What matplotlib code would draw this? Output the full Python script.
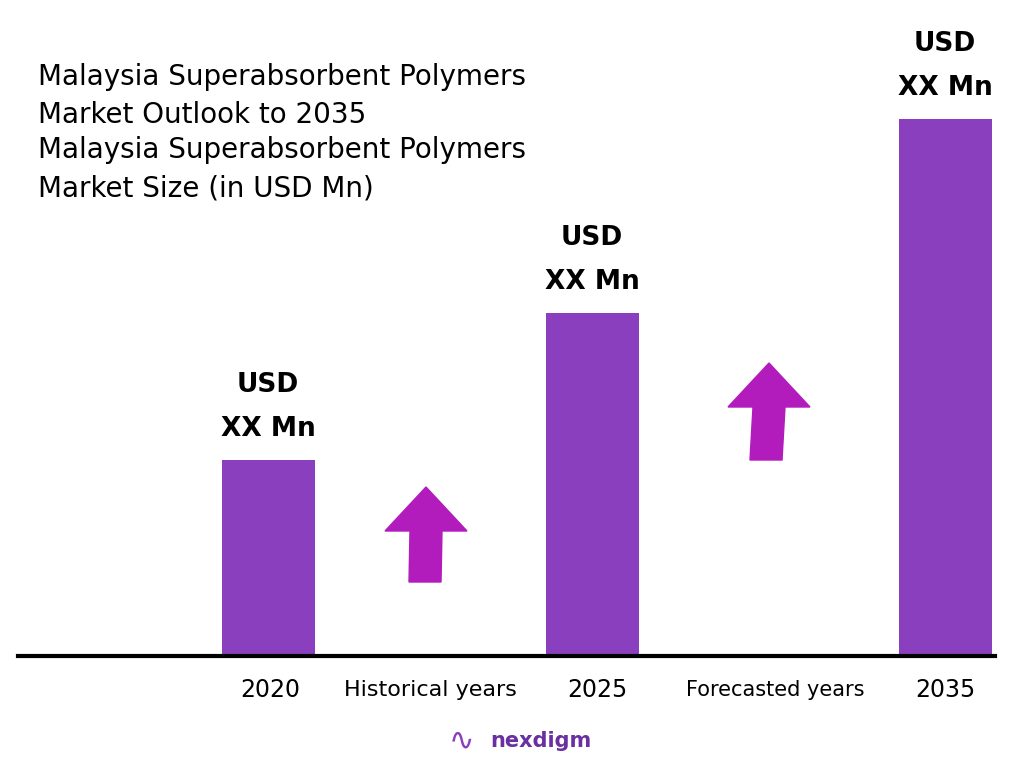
import matplotlib.pyplot as plt
from matplotlib.patches import Polygon

years = ["2020", "2025", "2035"]
bar_x = [268, 592, 945]          # bar centres in pixel-like axis units
values = [196, 343, 537]         # relative bar heights (values not published)
bar_labels = ["USD\nXX Mn", "USD\nXX Mn", "USD\nXX Mn"]
period_labels = ["Historical years", "Forecasted years"]
title_lines = ["Malaysia Superabsorbent Polymers", "Market Outlook to 2035",
               "Malaysia Superabsorbent Polymers", "Market Size (in USD Mn)"]

bar_color = "#8a3fbf"
arrow_color = "#b21cbc"

fig = plt.figure(figsize=(10.24, 7.68), dpi=100)
W, H = 1024, 768
base = 656
ax = fig.add_axes([0, 1 - base / H, 1, base / H])
ax.set_xlim(0, W)
ax.set_ylim(0, base)
ax.axis("off")

ax.bar(bar_x, values, width=93, color=bar_color)
ax.plot([18, 995], [0, 0], color="black", lw=3, clip_on=False)

for x, v, lab in zip(bar_x, values, bar_labels):
    ax.text(x, v + 18, lab, ha="center", va="bottom", fontsize=19,
            fontweight="bold", linespacing=1.9, family="DejaVu Sans")

# overlay axes in pixel coordinates (top-left origin) for text and arrows
ov = fig.add_axes([0, 0, 1, 1])
ov.set_xlim(0, W)
ov.set_ylim(H, 0)
ov.axis("off")

for x, yr in zip([270, 597, 945], years):
    ov.text(x, 690, yr, ha="center", va="center", fontsize=17, family="DejaVu Sans")
ov.text(430, 690, period_labels[0], ha="center", va="center", fontsize=16, family="DejaVu Sans")
ov.text(775, 690, period_labels[1], ha="center", va="center", fontsize=15, family="DejaVu Sans")

for i, line in enumerate(title_lines):
    ov.text(38, [77, 115, 150, 188][i], line, ha="left", va="center",
            fontsize=20, family="DejaVu Sans")


def up_arrow(cx, tip, bottom, tilt=0):
    hw, sw, hh = 41, 16, 44
    pts = [(cx, tip), (cx + hw, tip + hh), (cx + sw, tip + hh), (cx + sw + tilt, bottom),
           (cx - sw + tilt, bottom), (cx - sw, tip + hh), (cx - hw, tip + hh)]
    ov.add_patch(Polygon(pts, closed=True, color=arrow_color))


up_arrow(426, 487, 582, tilt=-1)
up_arrow(769, 363, 460, tilt=-3)

ov.text(490, 741, "nexdigm", ha="left", va="center", fontsize=15,
        fontweight="bold", color="#6a2fa0", family="DejaVu Sans")
ov.text(462, 741, "∿", ha="center", va="center", fontsize=22, color="#8a3fbf",
        family="DejaVu Sans")

fig.savefig("out.png", dpi=100)
